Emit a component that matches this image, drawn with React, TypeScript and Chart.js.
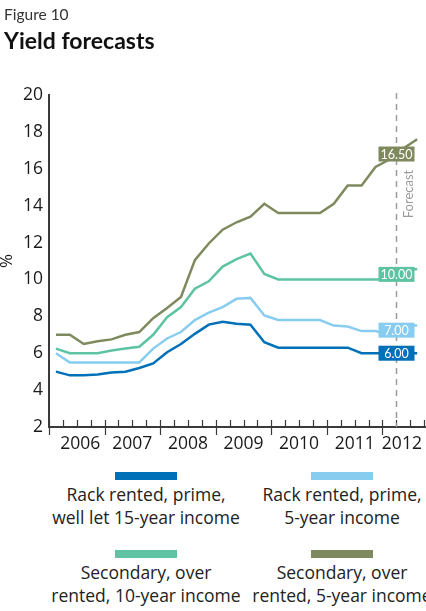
import React, { useEffect, useRef } from "react";
import { Chart, registerables } from "chart.js";

Chart.register(...registerables);

// Quarterly yield series, 2006 Q1 to 2012 Q3 (%)
const years = ["2006", "2007", "2008", "2009", "2010", "2011", "2012"];
const quartersPerYear = 4;
const forecastStartQuarter = 25; // start of 2012 Q2

const primeLongIncome = [
  5.0, 4.8, 4.8, 4.85, 4.95, 5.0, 5.2, 5.45, 6.05, 6.5, 7.05, 7.55, 7.7, 7.6,
  7.55, 6.6, 6.3, 6.3, 6.3, 6.3, 6.3, 6.3, 6.0, 6.0, 6.0, 6.0, 6.0,
];
const primeShortIncome = [
  6.0, 5.5, 5.5, 5.5, 5.5, 5.5, 5.5, 6.25, 6.8, 7.15, 7.8, 8.2, 8.5, 8.95, 9.0,
  8.05, 7.8, 7.8, 7.8, 7.8, 7.5, 7.45, 7.2, 7.2, 7.0, 7.5, 7.5,
];
const secondaryLongIncome = [
  6.25, 6.0, 6.0, 6.0, 6.15, 6.25, 6.35, 7.0, 7.95, 8.5, 9.5, 9.9, 10.7, 11.1,
  11.4, 10.3, 10.0, 10.0, 10.0, 10.0, 10.0, 10.0, 10.0, 10.0, 10.0, 10.55, 10.55,
];
const secondaryShortIncome = [
  7.0, 7.0, 6.5, 6.65, 6.75, 7.0, 7.15, 7.9, 8.45, 9.05, 11.05, 11.95, 12.7,
  13.1, 13.4, 14.1, 13.6, 13.6, 13.6, 13.6, 14.1, 15.1, 15.1, 16.1, 16.5, 17.1,
  17.6,
];

const seriesValues = [primeLongIncome, primeShortIncome, secondaryLongIncome, secondaryShortIncome];
const seriesNames = [
  ["Rack rented, prime,", "well let 15-year income"],
  ["Rack rented, prime,", "5-year income"],
  ["Secondary, over", "rented, 10-year income"],
  ["Secondary, over", "rented, 5-year income"],
];
const seriesColors = ["#0070b8", "#88cdf0", "#5ec3a2", "#7e8a5e"];

const yMin = 2;
const yMax = 20;
const yStep = 2;

const TITLE_FONT = "Lato, 'Open Sans', sans-serif";
const FONT = "'Open Sans', Lato, sans-serif";

const decorations = {
  id: "decorations",
  afterDatasetsDraw(chart: any) {
    const { ctx, chartArea, scales } = chart;
    const x = scales.x;
    const y = scales.y;
    ctx.save();

    // quarter ticks, longer at each year boundary
    ctx.strokeStyle = "#3a3a3a";
    ctx.lineWidth = 1.2;
    const totalQuarters = years.length * quartersPerYear;
    for (let q = 0; q <= totalQuarters; q++) {
      const px = Math.round(x.getPixelForValue(q)) + 0.5;
      ctx.beginPath();
      ctx.moveTo(px, chartArea.bottom - 7);
      ctx.lineTo(px, chartArea.bottom + (q % quartersPerYear === 0 ? 8 : 0));
      ctx.stroke();
    }

    // forecast divider
    const fx = Math.round(x.getPixelForValue(forecastStartQuarter)) + 0.5;
    ctx.setLineDash([6, 5]);
    ctx.strokeStyle = "#9b9b9b";
    ctx.lineWidth = 1.5;
    ctx.beginPath();
    ctx.moveTo(fx, chartArea.top - 2);
    ctx.lineTo(fx, chartArea.bottom);
    ctx.stroke();
    ctx.setLineDash([]);

    // forecast value tags
    const idx = forecastStartQuarter - 1;
    seriesValues.forEach((vals, i) => {
      const v = vals[idx];
      const cy = (y.getPixelForValue(vals[idx]) + y.getPixelForValue(vals[idx + 1])) / 2;
      const w = 36;
      const h = 15;
      ctx.fillStyle = seriesColors[i];
      ctx.fillRect(fx - w / 2, cy - h / 2, w, h);
      ctx.fillStyle = "#ffffff";
      ctx.font = `12.5px ${TITLE_FONT}`;
      ctx.textAlign = "center";
      ctx.textBaseline = "middle";
      ctx.fillText(v.toFixed(2), fx, cy + 0.5);
    });

    // "Forecast" caption beside the divider
    ctx.save();
    ctx.translate(fx + 12, chartArea.top + 99);
    ctx.rotate(-Math.PI / 2);
    ctx.font = `13px ${TITLE_FONT}`;
    ctx.fillStyle = "#9b9b9b";
    ctx.textAlign = "center";
    ctx.textBaseline = "middle";
    ctx.fillText("Forecast", 0, 0);
    ctx.restore();

    ctx.restore();
  },
};

function YieldChart() {
  const canvasRef = useRef<HTMLCanvasElement | null>(null);

  useEffect(() => {
    const canvas = canvasRef.current;
    if (!canvas) return;
    const chart = new Chart(canvas, {
      type: "line",
      data: {
        datasets: seriesValues.map((vals, i) => ({
          label: seriesNames[i].join(" "),
          data: vals.map((v, q) => ({ x: q + 0.5, y: v })),
          borderColor: seriesColors[i],
          backgroundColor: seriesColors[i],
          borderWidth: 2.5,
          pointRadius: 0,
          tension: 0,
          fill: false,
        })),
      },
      options: {
        responsive: false,
        animation: false,
        layout: { padding: { top: 95, right: 2, left: 0, bottom: 0 } },
        plugins: {
          legend: { display: false },
          tooltip: { enabled: false },
        },
        scales: {
          x: {
            type: "linear",
            min: 0,
            max: years.length * quartersPerYear,
            grid: { display: false, drawTicks: false },
            border: { display: true, color: "#3a3a3a", width: 2 },
            afterBuildTicks: (s: any) => {
              s.ticks = years.map((_, k) => {
                const mid = k * quartersPerYear + quartersPerYear / 2;
                const v = k === 0 ? mid + 0.25 : k === years.length - 1 ? mid - 0.6 : mid;
                return { value: v };
              });
            },
            afterFit: (s: any) => {
              s.height = 33;
            },
            ticks: {
              autoSkip: false,
              maxRotation: 0,
              padding: 7,
              color: "#1a1a1a",
              font: { family: FONT, size: 17.5 },
              callback: (_v: any, i: number) => years[i],
            },
          },
          y: {
            min: yMin,
            max: yMax,
            grid: { display: false, drawTicks: false },
            border: { display: true, color: "#3a3a3a", width: 2 },
            afterFit: (s: any) => {
              s.width = 49;
            },
            ticks: {
              stepSize: yStep,
              padding: 6,
              color: "#1a1a1a",
              font: { family: FONT, size: 17.5 },
            },
            title: {
              display: true,
              text: "%",
              color: "#1a1a1a",
              padding: { top: 0, bottom: 0 },
              font: { family: FONT, size: 17, lineHeight: 0.8 },
            },
          },
        },
      },
      plugins: [decorations],
    } as any);
    return () => chart.destroy();
  }, []);

  return (
    <canvas
      ref={canvasRef}
      width={440}
      height={460}
      style={{ position: "absolute", left: 0, top: 0, width: 440, height: 460, display: "block" }}
    />
  );
}

export default function App() {
  return (
    <div
      style={{
        position: "absolute",
        left: 0,
        top: 0,
        width: 426,
        height: 611,
        overflow: "hidden",
        background: "#ffffff",
        fontFamily: FONT,
        color: "#1a1a1a",
      }}
    >
      <YieldChart />
      <div
        style={{
          position: "absolute",
          left: 4,
          top: 5,
          fontFamily: TITLE_FONT,
          fontSize: 15.5,
          lineHeight: "18px",
          color: "#333",
        }}
      >
        Figure 10
      </div>
      <div
        style={{
          position: "absolute",
          left: 4,
          top: 27,
          fontFamily: TITLE_FONT,
          fontSize: 23,
          lineHeight: "27.6px",
          fontWeight: 700,
          color: "#111",
        }}
      >
        Yield forecasts
      </div>
      {seriesNames.map((lines, i) => {
        const center = i % 2 === 0 ? 146 : 342;
        const top = 472 + Math.floor(i / 2) * 78;
        return (
          <div
            key={i}
            style={{ position: "absolute", left: center - 130, top, width: 260, textAlign: "center" }}
          >
            <div style={{ width: 62, height: 8, background: seriesColors[i], margin: "0 auto" }} />
            <div style={{ marginTop: 3, fontSize: 17.5, lineHeight: "23px", whiteSpace: "nowrap", color: "#222" }}>
              {lines.map((l, k) => (
                <div key={k}>{l}</div>
              ))}
            </div>
          </div>
        );
      })}
    </div>
  );
}
